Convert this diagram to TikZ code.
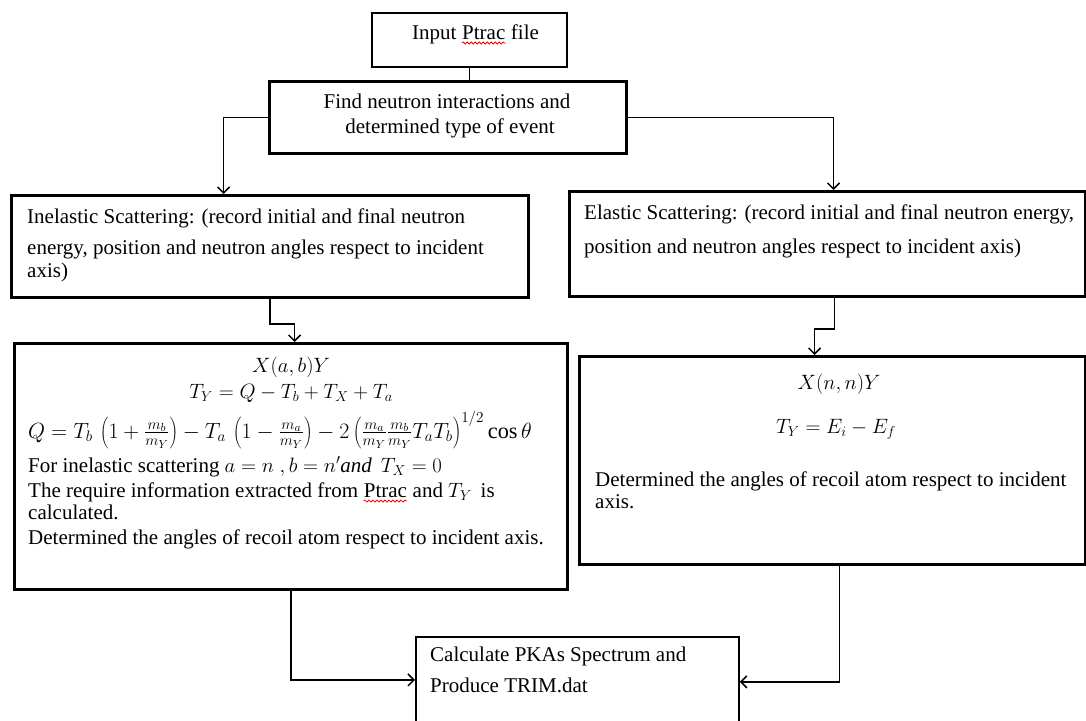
\documentclass[tikz,border=0pt]{standalone}
\usepackage{fontspec}
\setmainfont{Liberation Serif}
\usetikzlibrary{arrows.meta,decorations.pathmorphing}
\begin{document}
\begin{tikzpicture}[x=1pt,y=-1pt,
  thinbox/.style={draw, line width=1.8pt, inner sep=0, anchor=north west},
  thickbox/.style={draw, line width=3.2pt, inner sep=0, anchor=north west},
  txt/.style={font=\fontsize{21}{25}\selectfont, inner sep=0, anchor=base west},
  ctxt/.style={txt, anchor=base},
  conn/.style={line width=1.5pt},
  arr/.style={conn, -{Straight Barb[length=6pt,width=12pt,line width=1.5pt]}},
  squig/.style={red, line width=0.8pt, decorate, decoration={snake, amplitude=1pt, segment length=4pt}},
]
\useasboundingbox (0,0) rectangle (1086,720);
\clip (0,0) rectangle (1086,720);

% boxes
\node[thinbox, minimum width=195pt, minimum height=54pt] (inp) at (371,12) {};
\node[thickbox, minimum width=357pt, minimum height=72pt] (find) at (268,80) {};
\node[thickbox, minimum width=517pt, minimum height=102pt] (inel) at (10,194) {};
\node[thickbox, minimum width=516pt, minimum height=105pt] (el) at (568,190) {};
\node[thickbox, minimum width=553pt, minimum height=246pt] (form) at (13,342) {};
\node[thickbox, minimum width=506pt, minimum height=208pt] (elform) at (578,355) {};
\node[thinbox, minimum width=323pt, minimum height=100pt] (pka) at (415,636) {};

% texts
\node[txt] (tin1) at (412,39) {Input\ \null};
\node[txt] (tin2) at (tin1.base east) {Ptrac};
\node[txt] (tin3) at (tin2.base east) {\null\ file};
\draw[squig] ([yshift=-4pt]tin2.base west) -- ([yshift=-4pt]tin2.base east);

\node[ctxt] (tf1) at (447,108) {Find neutron interactions and};
\node[ctxt] (tf2) at (450,133) {determined type of event};

\node[txt] (ti1) at (27,223) {Inelastic Scattering: (record initial and final neutron};
\node[txt] (ti2) at (27,254) {energy, position and neutron angles respect to incident};
\node[txt] (ti3) at (27,277) {axis)};

\node[txt] (te1) at (584,219) {Elastic Scattering: (record initial and final neutron energy,};
\node[txt] (te2) at (584,253) {position and neutron angles respect to incident axis)};

\node[ctxt] (fa) at (291,372) {$X(a,b)Y$};
\node[ctxt] (fb) at (291,398) {$T_Y = Q - T_b + T_X + T_a$};
\node[txt] (fc) at (28,438) {\scalebox{1.06}{$Q = T_b\,\left(1+\frac{m_b}{m_Y}\right) - T_a\,\left(1-\frac{m_a}{m_Y}\right) - 2\left(\frac{m_a}{m_Y}\frac{m_b}{m_Y}T_aT_b\right)^{1/2}\cos\theta$}};
\node[txt] (fd) at (28,472) {For inelastic scattering $a = n\;, b = n'$\textit{and}\ \,$T_X = 0$};
\node[txt] (fe1) at (28,497) {The require information extracted from\ \null};
\node[txt] (fe2) at (fe1.base east) {Ptrac};
\node[txt] (fe3) at (fe2.base east) {\null\ and $T_Y$\, is};
\draw[squig] ([yshift=-4pt]fe2.base west) -- ([yshift=-4pt]fe2.base east);
\node[txt] (ff) at (28,519) {calculated.};
\node[txt] (fg) at (28,544) {Determined the angles of recoil atom respect to incident axis.};

\node[ctxt] (ea) at (839,389) {$X(n,n)Y$};
\node[ctxt] (eb) at (836,433) {$T_Y = E_i - E_f$};
\node[txt] (ec) at (595,486) {Determined the angles of recoil atom respect to incident};
\node[txt] (ed) at (595,508) {axis.};

\node[txt] (p1) at (430,661) {Calculate PKAs Spectrum and};
\node[txt] (p2) at (430,692) {Produce TRIM.dat};

% connectors
\draw[conn] (inp.south) -- (inp.south |- find.north);
\draw[arr] (find.west) -| ([xshift=-46.5pt]inel.north);
\draw[arr] (find.east) -| ([xshift=6pt]el.north);
\draw[arr] (inel.south) -- ++(0,25) -| ([xshift=3.5pt]form.north);
\draw[arr] ([xshift=7pt]el.south) -- ++(0,31) -| ([xshift=-18pt]elform.north);
\draw[arr] (form.south) |- ([yshift=7pt]pka.west);
\draw[arr] ([xshift=7pt]elform.south) |- ([yshift=5pt]pka.east);
\end{tikzpicture}
\end{document}
